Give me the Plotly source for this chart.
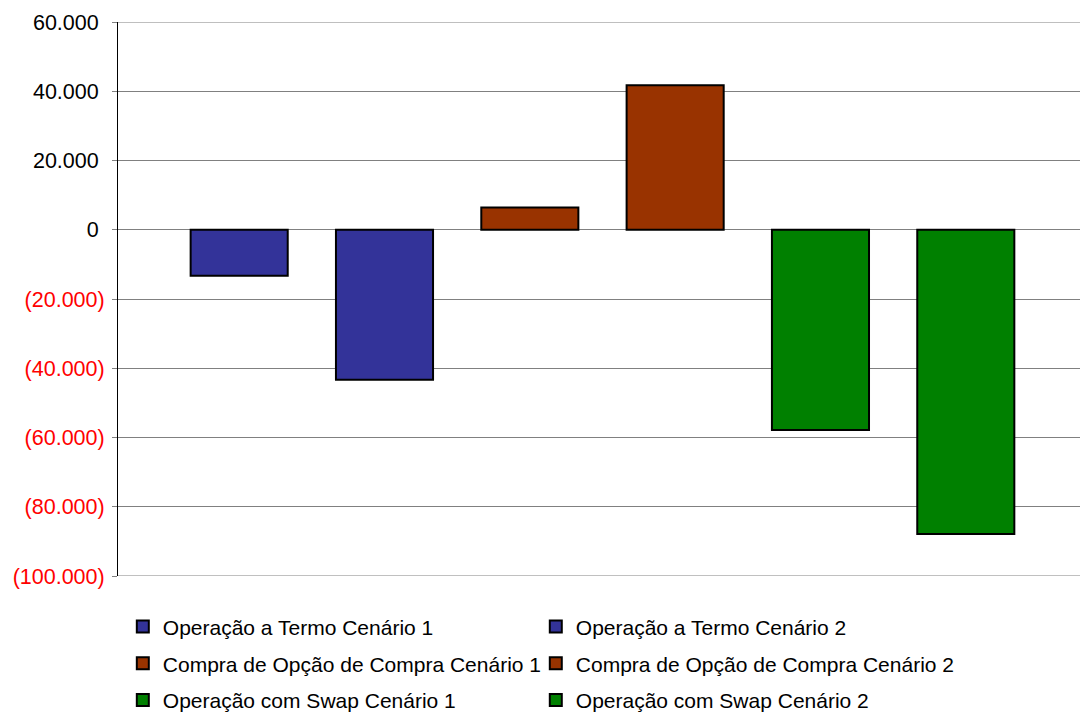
import plotly.graph_objects as go

# Series (one bar each) and their results
series_names = [
    "Operação a Termo Cenário 1",
    "Operação a Termo Cenário 2",
    "Compra de Opção de Compra Cenário 1",
    "Compra de Opção de Compra Cenário 2",
    "Operação com Swap Cenário 1",
    "Operação com Swap Cenário 2",
]
series_values = [-13300, -43300, 6400, 41700, -57800, -87900]
series_colors = ["#333399", "#333399", "#993300", "#993300", "#008000", "#008000"]

# Y-axis ticks
tick_values = [60000, 40000, 20000, 0, -20000, -40000, -60000, -80000, -100000]

PUNCT_SPACE = "\u2008"  # keeps positive labels aligned with the ")" of negatives


def fmt_tick(v):
    s = f"{abs(v):,}".replace(",", ".")
    if v < 0:
        return f'<span style="color:#ff0000">({s})</span>'
    return s + PUNCT_SPACE


tick_labels = [fmt_tick(v) for v in tick_values]

FONT = "Liberation Sans, Arial, sans-serif"

fig = go.Figure()
# odd series in the left legend column, even ones in the right column
for i, (name, val, col) in enumerate(zip(series_names, series_values, series_colors)):
    fig.add_trace(
        go.Bar(
            x=[""],
            y=[val],
            name=name,
            marker=dict(color=col, line=dict(color="#000000", width=2)),
            legend="legend" if i % 2 == 0 else "legend2",
            legendgroup=f"g{i}",
        )
    )

# gridlines at both ends of the value range
for v in (tick_values[0], tick_values[-1]):
    fig.add_shape(
        type="line", xref="paper", x0=0, x1=1, yref="y", y0=v, y1=v,
        line=dict(color="#808080", width=1), layer="below",
    )

legend_common = dict(
    orientation="v",
    xanchor="left",
    yanchor="top",
    y=-0.0548,
    tracegroupgap=6.5,
    font=dict(family=FONT, size=21, color="#000000"),
    bgcolor="rgba(0,0,0,0)",
    traceorder="grouped",
)

fig.update_layout(
    width=1080,
    height=716,
    margin=dict(l=118, r=0, t=22, b=140, autoexpand=False),
    paper_bgcolor="#ffffff",
    plot_bgcolor="#ffffff",
    barmode="group",
    bargap=0.087,
    bargroupgap=0.332,
    font=dict(family=FONT, size=21, color="#000000"),
    xaxis=dict(
        range=[-0.5073, 0.5],
        showticklabels=False,
        showgrid=False,
        zeroline=False,
        showline=False,
        ticks="",
    ),
    yaxis=dict(
        range=[-100000, 60000],
        tickmode="array",
        tickvals=tick_values,
        ticktext=tick_labels,
        ticks="outside",
        ticklen=5,
        tickwidth=1,
        tickcolor="#808080",
        ticklabelstandoff=3,
        showline=True,
        linecolor="#000000",
        linewidth=1,
        showgrid=True,
        gridcolor="#808080",
        gridwidth=1,
        zeroline=False,
        tickfont=dict(family=FONT, size=21.5, color="#000000"),
    ),
    legend=dict(legend_common, x=0.005),
    legend2=dict(legend_common, x=0.4343),
    showlegend=True,
)

fig.write_html("out.html")
